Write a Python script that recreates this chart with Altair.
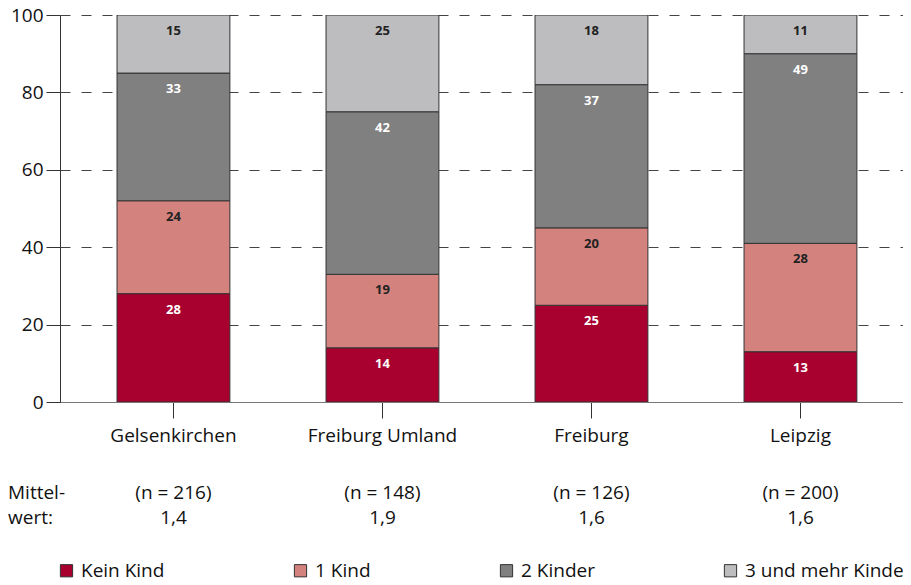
import altair as alt
import pandas as pd

cities = ["Gelsenkirchen", "Freiburg Umland", "Freiburg", "Leipzig"]
categories = ["Kein Kind", "1 Kind", "2 Kinder", "3 und mehr Kinder"]
kein_kind = [28, 14, 25, 13]
ein_kind = [24, 19, 20, 28]
zwei_kinder = [33, 42, 37, 49]
drei_kinder = [15, 25, 18, 11]
n_values = [216, 148, 126, 200]
means = ["1,4", "1,9", "1,6", "1,6"]
y_ticks = [0, 20, 40, 60, 80, 100]

colors = ["#A8002F", "#D4827D", "#808080", "#BDBDBF"]
FONT = "Open Sans"

rows = []
for series_idx, (cat, vals) in enumerate(zip(categories, [kein_kind, ein_kind, zwei_kinder, drei_kinder])):
    for city, v in zip(cities, vals):
        rows.append({"city": city, "cat": cat, "order": series_idx, "value": v})
df = pd.DataFrame(rows)

info = pd.DataFrame({"city": cities,
                     "ntext": [f"(n = {n})" for n in n_values],
                     "mean": means})

W, H = 843, 387
xscale = alt.Scale(domain=cities, paddingInner=0.46, paddingOuter=0.2467, align=0.553)
yscale = alt.Scale(domain=[0, 100], nice=False)

xenc = alt.X("city:N", sort=cities, scale=xscale,
             axis=alt.Axis(title=None, labelFontSize=19, labelFont=FONT, labelColor="#111",
                           tickSize=16, tickColor="#333", domainColor="#777",
                           labelPadding=8, labelAngle=0, grid=False))

base = alt.Chart(df).transform_stack(
    stack="value", groupby=["city"], as_=["y0", "y1"],
    sort=[alt.SortField("order", order="ascending")]
).transform_calculate(
    ytop="min(datum.y1, 100)",
    txtcolor="(datum.cat == 'Kein Kind' || datum.cat == '2 Kinder') ? 'white' : '#222'"
)

bars = base.mark_bar(stroke="#333", strokeWidth=1, clip=True).encode(
    x=xenc,
    y=alt.Y("y0:Q", scale=yscale,
            axis=alt.Axis(title=None, values=y_ticks, labelFontSize=19, labelFont=FONT,
                          labelColor="#111", tickSize=14, tickColor="#333", domainColor="#333",
                          labelPadding=3, grid=True, gridDash=[10, 11], gridColor="#444",
                          gridWidth=1)),
    y2="ytop:Q",
    color=alt.Color("cat:N", scale=alt.Scale(domain=categories, range=colors),
                    legend=alt.Legend(title=None, orient="none", direction="horizontal",
                                      legendX=-3, legendY=546, symbolType="square",
                                      symbolSize=150, symbolStrokeColor="#333",
                                      symbolStrokeWidth=1, labelFontSize=19, labelFont=FONT,
                                      labelColor="#111", labelOffset=5, columnPadding=126,
                                      labelLimit=400, gridAlign="each", padding=0)),
)

labels = base.mark_text(fontSize=13, fontWeight="bold", font=FONT, dy=16, baseline="middle").encode(
    x=alt.X("city:N", sort=cities, scale=xscale),
    y=alt.Y("ytop:Q", scale=yscale),
    text="value:Q",
    color=alt.Color("txtcolor:N", scale=None),
)

ntext = alt.Chart(info).mark_text(fontSize=19, font=FONT, color="#111", baseline="middle").encode(
    x=alt.X("city:N", sort=cities, scale=xscale),
    y=alt.value(478),
    text="ntext:N",
)
meantext = alt.Chart(info).mark_text(fontSize=19, font=FONT, color="#111", baseline="middle").encode(
    x=alt.X("city:N", sort=cities, scale=xscale),
    y=alt.value(503),
    text="mean:N",
)
mittel1 = alt.Chart(pd.DataFrame({"t": ["Mittel-"]})).mark_text(
    fontSize=19, font=FONT, color="#111", baseline="middle", align="left"
).encode(x=alt.value(-52), y=alt.value(478), text="t:N")
mittel2 = alt.Chart(pd.DataFrame({"t": ["wert:"]})).mark_text(
    fontSize=19, font=FONT, color="#111", baseline="middle", align="left"
).encode(x=alt.value(-52), y=alt.value(503), text="t:N")

chart = alt.layer(bars, labels, ntext, meantext, mittel1, mittel2).properties(
    width=W, height=H,
    autosize=alt.AutoSizeParams(type="none"),
    padding={"left": 52, "top": 7, "right": 0, "bottom": 180},
).configure_view(stroke=None).configure_axis(labelFont=FONT)

chart.save("out.html", embed_options={"renderer": "svg", "actions": False})
